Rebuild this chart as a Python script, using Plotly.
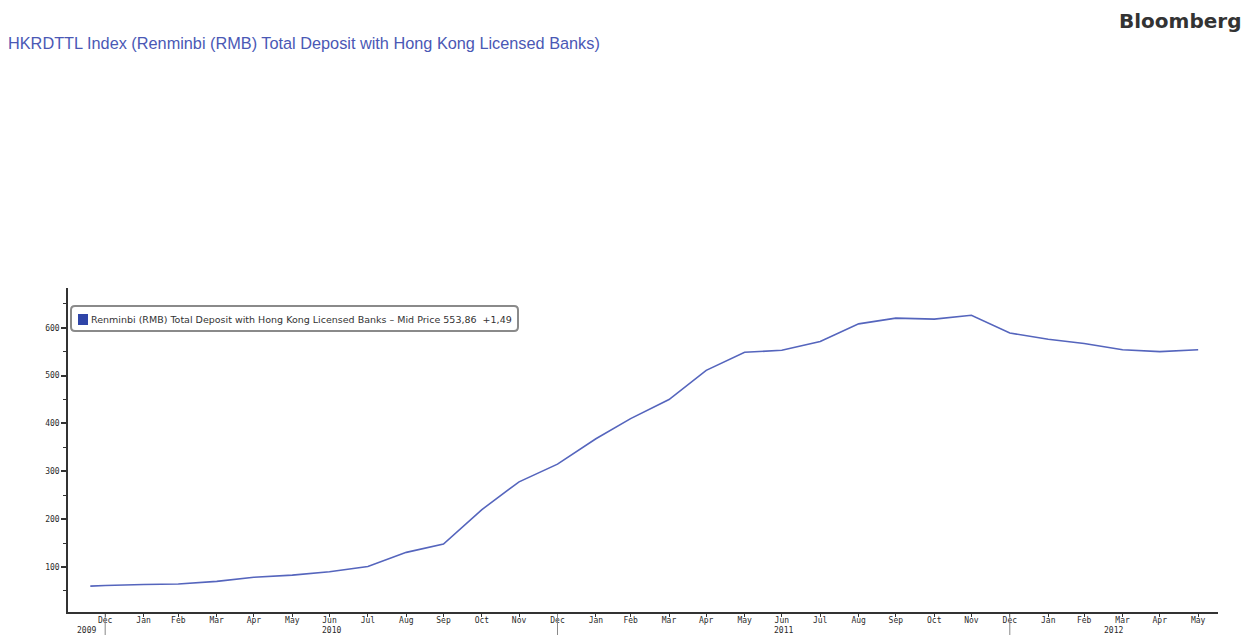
import plotly.graph_objects as go
import pandas as pd

# ---- data ----
dates = ["2009-12-19", "2009-12-31", "2010-01-31", "2010-02-28", "2010-03-31", "2010-04-30",
         "2010-05-31", "2010-06-30", "2010-07-31", "2010-08-31", "2010-09-30", "2010-10-31",
         "2010-11-30", "2010-12-31", "2011-01-31", "2011-02-28", "2011-03-31", "2011-04-30",
         "2011-05-31", "2011-06-30", "2011-07-31", "2011-08-31", "2011-09-30", "2011-10-31",
         "2011-11-30", "2011-12-31", "2012-01-31", "2012-02-29", "2012-03-31", "2012-04-30",
         "2012-05-31"]
values = [60, 61.5, 63.5, 64.6, 70, 78.5, 83, 90, 101, 130.6, 148, 220, 278, 315, 368, 410,
          450, 511, 548.6, 553, 571, 608, 620, 618, 626, 589, 576, 567, 554, 550, 553.86]
tick_dates = dates[1:]
tick_text = [pd.Timestamp(d).strftime("%b") for d in tick_dates]
year_labels = ["2009", "2010", "2011", "2012"]
year_breaks = ["2009-12-31", "2010-12-31", "2011-12-31"]
y_ticks = [100, 200, 300, 400, 500, 600]
y_minor = [50, 150, 250, 350, 450, 550, 650]
x_range = ["2009-12-01", "2012-06-16"]
y_range = [6, 683]

title_text = "HKRDTTL Index (Renminbi (RMB) Total Deposit with Hong Kong Licensed Banks)"
legend_text = "Renminbi (RMB) Total Deposit with Hong Kong Licensed Banks \u2013 Mid Price 553,86  +1,49"

# ---- layout geometry (reference pixels; page body has an 8px margin) ----
OFF = 8
W, H = 1252, 635 - OFF
L, R, T, B = 68, 1218, 288, 612          # plot area in reference pixels
PW, PH = R - L, B - T


def px(x):
    return (x - L) / PW


def py(y):
    return (B - y) / PH


LINE_COLOR = "#5565bd"
AX_COLOR = "#333333"
TICK_FONT = dict(family="DejaVu Sans Mono", size=8, color="#2a2a2a")

fig = go.Figure()
fig.add_trace(go.Scatter(x=dates, y=values, mode="lines",
                         line=dict(color=LINE_COLOR, width=1.6),
                         showlegend=False, hoverinfo="x+y"))

shapes = []
annotations = []

# year separators and labels
bounds = [pd.Timestamp(x_range[0])] + [pd.Timestamp(d) for d in year_breaks] + [pd.Timestamp(x_range[1])]
for d in year_breaks:
    shapes.append(dict(type="line", xref="x", yref="paper", x0=d, x1=d,
                       y0=py(614), y1=py(635), line=dict(color="#888888", width=1)))
for i, lab in enumerate(year_labels):
    mid = bounds[i] + (bounds[i + 1] - bounds[i]) / 2
    annotations.append(dict(text=lab, xref="x", yref="paper", x=mid.strftime("%Y-%m-%d %H:%M"),
                            y=py(630), showarrow=False, xanchor="center", yanchor="middle",
                            font=TICK_FONT))

# legend box (rounded rect)
bx0, by0, bx1, by1, r = 71, 306, 518, 331, 4
path = (f"M {px(bx0 + r)} {py(by0)} L {px(bx1 - r)} {py(by0)} "
        f"Q {px(bx1)} {py(by0)} {px(bx1)} {py(by0 + r)} L {px(bx1)} {py(by1 - r)} "
        f"Q {px(bx1)} {py(by1)} {px(bx1 - r)} {py(by1)} L {px(bx0 + r)} {py(by1)} "
        f"Q {px(bx0)} {py(by1)} {px(bx0)} {py(by1 - r)} L {px(bx0)} {py(by0 + r)} "
        f"Q {px(bx0)} {py(by0)} {px(bx0 + r)} {py(by0)} Z")
shapes.append(dict(type="path", xref="paper", yref="paper", path=path,
                   line=dict(color="#8a8a8a", width=2), fillcolor="white"))
shapes.append(dict(type="rect", xref="paper", yref="paper",
                   x0=px(78), x1=px(88), y0=py(325), y1=py(314),
                   line=dict(width=0), fillcolor="#2f45a8"))
annotations.append(dict(text=legend_text, xref="paper", yref="paper", x=px(89), y=py(319),
                        xanchor="left", yanchor="middle", showarrow=False,
                        font=dict(family="DejaVu Sans", size=9.5, color="#333333")))

# Bloomberg brand
annotations.append(dict(text="<b>Bloomberg</b>", xref="paper", yref="paper", x=px(1243), y=py(21),
                        xanchor="right", yanchor="middle", showarrow=False,
                        font=dict(family="DejaVu Sans", size=20, color="#333333")))

fig.update_layout(
    width=W, height=H,
    margin=dict(l=L - OFF, r=W - (R - OFF), t=T - OFF, b=H - (B - OFF), autoexpand=False),
    paper_bgcolor="white", plot_bgcolor="white",
    title=dict(text=title_text, x=(8 - OFF) / W, y=1 - (43 - OFF) / H,
               xanchor="left", yanchor="middle", xref="container", yref="container",
               font=dict(family="Liberation Sans", size=16.3, color="#4a58b5")),
    shapes=shapes, annotations=annotations,
    xaxis=dict(type="date", range=x_range, showgrid=False, zeroline=False,
               showline=True, linecolor=AX_COLOR, linewidth=1.5,
               tickmode="array", tickvals=tick_dates, ticktext=tick_text,
               ticks="outside", ticklen=3, tickcolor=AX_COLOR, tickwidth=1,
               ticklabelstandoff=-3, tickfont=TICK_FONT),
    yaxis=dict(range=y_range, showgrid=False, zeroline=False,
               showline=True, linecolor=AX_COLOR, linewidth=1.5,
               tickmode="array", tickvals=y_ticks,
               ticks="outside", ticklen=5, tickwidth=2, tickcolor=AX_COLOR,
               tickfont=TICK_FONT,
               minor=dict(ticks="outside", ticklen=3, tickwidth=1, tickcolor=AX_COLOR,
                          tickmode="array", tickvals=y_minor)),
)

fig.write_html("out.html")
